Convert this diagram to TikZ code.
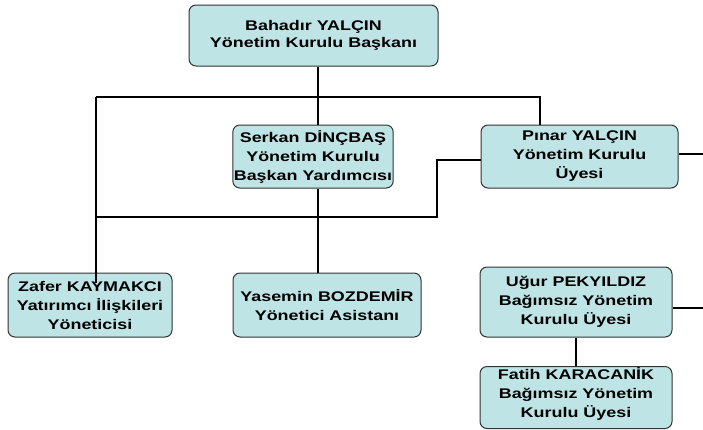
\documentclass[tikz,border=0pt]{standalone}
\usepackage{fontspec}
\newfontfamily\boxfont[FakeStretch=1.28]{Liberation Sans}
\definecolor{boxfill}{RGB}{190,228,230}
\definecolor{boxline}{RGB}{50,50,50}

\begin{document}
\begin{tikzpicture}[x=1pt,y=-1pt,
    box/.style={draw=boxline,fill=boxfill,line width=1pt,rounded corners=7pt,
      align=center,inner sep=1pt,font=\boxfont\bfseries\fontsize{14}{19}\selectfont},
    link/.style={line width=2pt}]
    \useasboundingbox (0,0) rectangle (703,429);

    \node[box,minimum width=249,minimum height=61] (bahadir) at (313.5,35.5)
      {Bahadır YALÇIN\\[-2pt]Yönetim Kurulu Başkanı};
    \node[box,minimum width=160,minimum height=63] (serkan) at (313,156.5)
      {Serkan DİNÇBAŞ\\Yönetim Kurulu\\Başkan Yardımcısı};
    \node[box,minimum width=197,minimum height=63] (pinar) at (579.5,156.5)
      {Pınar YALÇIN\\Yönetim Kurulu\\Üyesi};
    \node[box,minimum width=164,minimum height=64] (zafer) at (90,305)
      {Zafer KAYMAKCI\\Yatırımcı İlişkileri\\Yöneticisi};
    \node[box,minimum width=188,minimum height=64] (yasemin) at (327,305)
      {Yasemin BOZDEMİR\\Yönetici Asistanı};
    \node[box,minimum width=192,minimum height=70] (ugur) at (576,302)
      {Uğur PEKYILDIZ\\Bağımsız Yönetim\\Kurulu Üyesi};
    \node[box,minimum width=192,anchor=north,text depth=10pt] (fatih) at (576,366)
      {Fatih KARACANİK\\Bağımsız Yönetim\\Kurulu Üyesi};

    \coordinate (topL) at (96,97);
    \coordinate (topR) at (540,97);
    \coordinate (stem) at (318,97);
    \coordinate (lowR) at (437,217);
    \coordinate (pinarR) at (703,154);
    \coordinate (ugurR) at (703,308);

    \draw[link] (bahadir.south -| stem) -- (serkan.north -| stem);
    \draw[link] (topL) -- (topR) -- (topR |- pinar.north);
    \draw[link] (topL) -- ([yshift=-10pt]zafer.north -| topL);
    \draw[link] (serkan.south -| stem) -- (yasemin.north -| stem);
    \draw[link] (topL |- lowR) -- (lowR) -- (lowR |- 0,160) -- (pinar.west |- 0,160);
    \draw[link] (pinar.east |- pinarR) -- (pinarR);
    \draw[link] (ugur.east |- ugurR) -- (ugurR);
    \draw[link] (ugur.south) -- (fatih.north);
\end{tikzpicture}
\end{document}
